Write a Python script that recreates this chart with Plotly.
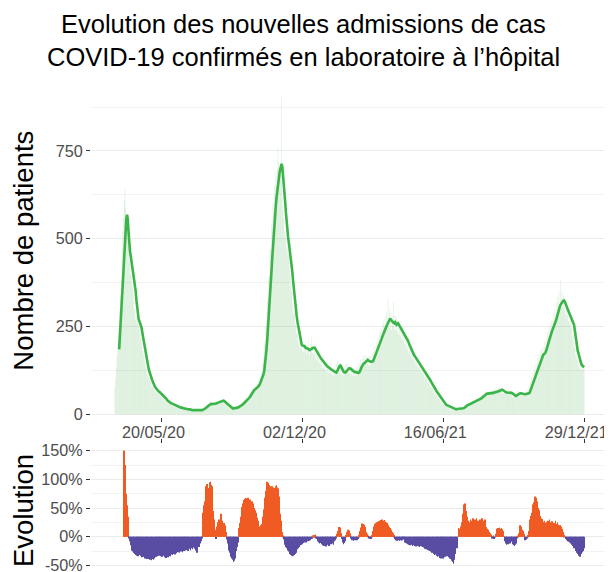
import pandas as pd
import plotly.graph_objects as go

# ---------------- data ----------------
date_debut = "2020-03-16"

# daily new hospital admissions (bars)
admissions = [
    80, 105, 135, 165, 195, 225, 260, 300, 340, 380,
    470, 520, 560, 610, 640, 590, 545, 500, 520, 470,
    440, 430, 400, 395, 370, 360, 345, 300, 290, 270,
    275, 265, 270, 250, 240, 230, 215, 205, 190, 180,
    170, 155, 148, 135, 128, 118, 110, 105, 98, 95,
    95, 80, 85, 75, 78, 68, 72, 62, 68, 60,
    65, 58, 60, 52, 57, 50, 52, 44, 47, 40,
    42, 36, 38, 32, 35, 30, 33, 27, 30, 25,
    28, 23, 26, 22, 25, 20, 23, 19, 22, 18,
    20, 16, 19, 15, 18, 14, 17, 13, 16, 14,
    16, 12, 15, 11, 14, 11, 13, 10, 13, 10,
    12, 10, 12, 9, 11, 9, 11, 9, 12, 11,
    14, 13, 16, 15, 19, 20, 24, 22, 28, 27,
    31, 27, 32, 27, 31, 28, 30, 28, 33, 30,
    35, 31, 37, 34, 39, 35, 40, 37, 42, 36,
    39, 33, 35, 29, 31, 25, 27, 21, 23, 18,
    19, 16, 18, 15, 19, 16, 20, 17, 21, 18,
    23, 20, 25, 23, 28, 26, 32, 30, 36, 35,
    42, 38, 45, 42, 49, 47, 56, 55, 64, 63,
    70, 66, 74, 70, 77, 73, 82, 78, 86, 85,
    95, 92, 108, 104, 120, 122, 148, 160, 195, 210,
    250, 265, 320, 330, 390, 400, 470, 470, 540, 530,
    600, 580, 650, 620, 690, 650, 700, 760, 720, 690,
    700, 680, 900, 620, 580, 560, 520, 500, 510, 470,
    480, 450, 455, 410, 400, 365, 350, 320, 310, 285,
    290, 255, 260, 230, 235, 205, 210, 190, 205, 185,
    215, 180, 205, 175, 200, 178, 210, 172, 195, 180,
    215, 170, 200, 180, 220, 175, 195, 170, 185, 160,
    190, 155, 175, 150, 172, 145, 165, 140, 158, 132,
    155, 130, 150, 125, 145, 122, 142, 118, 140, 120,
    138, 115, 135, 112, 132, 110, 135, 118, 145, 128,
    155, 130, 148, 120, 138, 112, 130, 110, 132, 115,
    140, 118, 145, 122, 143, 120, 140, 115, 135, 113,
    133, 110, 132, 108, 130, 110, 130, 112, 138, 120,
    148, 128, 155, 135, 158, 138, 165, 142, 168, 145,
    165, 140, 162, 140, 165, 138, 165, 148, 175, 155,
    188, 165, 195, 172, 205, 185, 220, 195, 232, 210,
    245, 220, 255, 228, 265, 240, 278, 245, 290, 255,
    330, 250, 300, 245, 290, 240, 280, 250, 320, 240,
    280, 240, 275, 235, 268, 228, 262, 225, 255, 215,
    248, 210, 240, 200, 232, 195, 225, 185, 210, 175,
    198, 165, 190, 160, 182, 155, 176, 148, 170, 142,
    162, 135, 155, 130, 148, 124, 140, 118, 134, 112,
    128, 105, 122, 100, 115, 95, 108, 86, 98, 80,
    90, 74, 82, 66, 75, 60, 68, 54, 62, 50,
    56, 44, 48, 37, 40, 30, 34, 27, 30, 24,
    28, 22, 25, 19, 22, 17, 20, 15, 18, 14,
    15, 13, 16, 13, 17, 14, 18, 15, 18, 14,
    19, 15, 19, 16, 21, 20, 26, 23, 29, 25,
    31, 26, 32, 28, 33, 29, 35, 31, 38, 33,
    40, 34, 42, 37, 45, 39, 48, 42, 52, 46,
    56, 50, 60, 53, 64, 55, 65, 54, 66, 55,
    66, 56, 66, 57, 67, 58, 68, 58, 70, 60,
    72, 62, 74, 64, 76, 66, 77, 64, 73, 60,
    70, 58, 68, 58, 69, 57, 70, 58, 68, 56,
    66, 54, 62, 50, 58, 48, 59, 52, 63, 54,
    65, 55, 66, 54, 64, 53, 63, 52, 63, 52,
    63, 53, 65, 56, 68, 62, 80, 74, 92, 86,
    108, 96, 120, 104, 130, 118, 146, 130, 160, 140,
    172, 150, 182, 158, 188, 160, 192, 170, 205, 180,
    218, 190, 232, 210, 250, 222, 262, 232, 270, 240,
    285, 255, 300, 270, 320, 285, 335, 295, 350, 305,
    380, 300, 350, 310, 340, 300, 330, 285, 320, 275,
    305, 265, 295, 255, 285, 245, 270, 215, 230, 190,
    205, 170, 185, 155, 165, 140, 155, 130, 148, 128,
    145, 128, 140, 130,
]

# 7-day average (green line)
moyenne_7j = [
    None, None, None, None, None, None, 185, 225, 265, 310,
    350, 395, 435, 470, 505, 535, 558, 568, 555, 520,
    480, 465, 452, 438, 422, 405, 390, 375, 362, 350,
    325, 305, 285, 272, 266, 260, 255, 248, 235, 222,
    210, 197, 185, 173, 161, 150, 140, 130, 122, 114,
    107, 102, 97, 92, 86, 82, 78, 75, 72, 69,
    67, 65, 64, 62, 60, 58, 57, 55, 52, 50,
    47, 45, 43, 40, 38, 36, 35, 33, 32, 31,
    30, 28, 27, 26, 25, 24, 24, 23, 22, 21,
    21, 20, 19, 19, 18, 18, 17, 17, 16, 16,
    15, 15, 15, 14, 14, 13, 13, 13, 12, 12,
    12, 12, 11, 11, 11, 11, 10, 10, 10, 10,
    10, 11, 12, 13, 14, 15, 16, 18, 20, 22,
    24, 26, 28, 29, 30, 29, 29, 30, 29, 29,
    30, 31, 32, 33, 34, 35, 36, 37, 37, 38,
    39, 39, 38, 37, 35, 33, 31, 29, 27, 25,
    23, 21, 19, 18, 17, 17, 17, 17, 18, 18,
    19, 19, 20, 21, 22, 23, 25, 26, 28, 30,
    32, 34, 37, 39, 41, 42, 44, 46, 49, 53,
    57, 61, 65, 67, 69, 71, 72, 74, 76, 78,
    80, 83, 87, 92, 97, 103, 108, 115, 125, 140,
    160, 185, 212, 240, 272, 305, 340, 373, 410, 445,
    480, 515, 545, 570, 595, 618, 640, 658, 672, 685,
    697, 707, 713, 705, 685, 660, 639, 605, 575, 545,
    520, 505, 490, 475, 462, 449, 428, 405, 380, 355,
    335, 315, 296, 280, 265, 252, 240, 228, 215, 203,
    198, 196, 195, 194, 194, 190, 188, 189, 188, 186,
    185, 183, 185, 185, 186, 189, 190, 191, 190, 186,
    182, 178, 174, 171, 168, 165, 162, 159, 156, 153,
    150, 147, 144, 142, 140, 138, 136, 134, 132, 131,
    129, 128, 127, 125, 124, 122, 121, 120, 119, 121,
    125, 130, 135, 138, 139, 136, 131, 126, 122, 120,
    119, 119, 122, 125, 128, 130, 131, 131, 131, 129,
    126, 124, 122, 121, 120, 120, 119, 119, 118, 118,
    119, 122, 127, 133, 138, 142, 144, 145, 147, 150,
    152, 154, 155, 153, 151, 150, 150, 150, 150, 151,
    155, 160, 166, 172, 177, 181, 184, 190, 196, 202,
    208, 214, 220, 226, 231, 236, 241, 246, 251, 255,
    259, 264, 269, 273, 270, 266, 264, 262, 260, 259,
    262, 258, 255, 257, 259, 256, 252, 248, 246, 243,
    240, 236, 232, 228, 224, 220, 216, 213, 210, 204,
    198, 193, 187, 182, 176, 173, 170, 167, 164, 161,
    158, 155, 152, 149, 145, 141, 138, 134, 131, 128,
    125, 122, 119, 116, 113, 110, 107, 104, 101, 97,
    93, 89, 86, 82, 78, 74, 71, 68, 65, 62,
    59, 56, 54, 51, 47, 43, 40, 36, 33, 31,
    29, 27, 26, 25, 24, 22, 21, 20, 19, 18,
    17, 16, 15, 14, 14, 14, 15, 15, 16, 16,
    16, 16, 16, 17, 17, 17, 18, 19, 21, 23,
    25, 26, 27, 28, 28, 29, 30, 30, 31, 32,
    33, 34, 35, 36, 37, 38, 40, 41, 42, 44,
    45, 47, 49, 51, 53, 55, 57, 58, 59, 59,
    59, 60, 59, 60, 60, 60, 61, 61, 62, 62,
    62, 63, 64, 65, 66, 67, 68, 69, 70, 70,
    69, 67, 65, 64, 63, 62, 62, 62, 62, 63,
    62, 62, 61, 60, 58, 56, 54, 53, 52, 53,
    55, 57, 58, 59, 60, 60, 59, 58, 58, 57,
    57, 57, 57, 57, 58, 59, 60, 61, 66, 72,
    78, 83, 90, 97, 103, 108, 112, 118, 125, 132,
    139, 145, 150, 155, 160, 165, 169, 171, 173, 175,
    180, 186, 192, 198, 204, 212, 220, 228, 235, 240,
    245, 250, 255, 260, 268, 276, 285, 292, 298, 305,
    311, 316, 319, 321, 323, 324, 321, 317, 312, 306,
    300, 295, 289, 283, 277, 272, 268, 264, 260, 255,
    240, 222, 205, 192, 182, 175, 166, 157, 149, 144,
    140, 137, 135, 134,
]

# weekly evolution of the average, in %
evolution = [
    None, None, None, None, None, None, None, None, None, None,
    None, None, 150, 150, 125, 100, 75, 55, 35, 15,
    -3, -8, -15, -20, -24, -26, -27, -28, -30, -32,
    -33, -32, -34, -31, -30, -32, -33, -35, -36, -34,
    -35, -37, -38, -36, -38, -39, -37, -39, -40, -38,
    -40, -41, -39, -37, -40, -38, -36, -35, -33, -34,
    -30, -33, -31, -29, -34, -32, -35, -30, -33, -36,
    -34, -37, -35, -32, -36, -33, -30, -34, -31, -29,
    -32, -28, -30, -27, -31, -26, -29, -24, -27, -25,
    -28, -24, -26, -22, -27, -23, -25, -21, -24, -20,
    -23, -19, -25, -21, -18, -24, -20, -17, -22, -19,
    -15, -21, -17, -24, -28, -20, -14, -18, -10, -12,
    -8, -3, 30, 42, 55, 62, 75, 88, 92, 78,
    70, 85, 95, 96, 90, 88, 60, 45, 30, 12,
    6, -4, 18, 25, 22, 30, 20, 24, 40, 28,
    22, 18, 24, 15, 20, 8, -5, -12, -18, -24,
    -28, -32, -35, -38, -40, -44, -42, -38, -30, -25,
    -18, -10, -4, 15, 24, 35, 42, 52, 58, 62,
    64, 66, 68, 65, 67, 68, 66, 63, 65, 62,
    60, 62, 58, 55, 50, 46, 42, 38, 33, 28,
    24, 18, 16, 20, 18, 22, 35, 48, 58, 68,
    80, 95, 96, 92, 94, 90, 88, 86, 85, 88,
    84, 86, 82, 85, 88, 90, 86, 84, 70, 55,
    40, 28, 17, 8, 2, -5, -10, -14, -18, -20,
    -22, -24, -26, -28, -30, -32, -33, -34, -33, -32,
    -31, -30, -28, -25, -22, -20, -18, -16, -15, -14,
    -13, -12, -11, -10, -9, -8, -10, -7, -6, -8,
    -7, -5, -6, -4, -3, -2, 1, 3, 2, 4,
    -2, -4, -6, -8, -10, -12, -11, -9, -13, -15,
    -14, -16, -12, -15, -17, -13, -11, -14, -16, -12,
    -10, -13, -9, -12, -14, -8, -5, -6, -2, 5,
    10, 15, 17, 16, 12, 6, -4, -10, -13, -11,
    -8, -5, 3, 8, 12, 10, 11, 6, 1, -3,
    -6, -5, -7, -4, -6, -5, -3, -6, -4, -2,
    3, 10, 16, 20, 23, 22, 18, 21, 17, 12,
    8, 5, 2, -1, -2, -3, -4, -1, 3, 10,
    14, 18, 22, 24, 23, 25, 26, 27, 28, 26,
    29, 28, 30, 28, 27, 29, 26, 25, 23, 24,
    20, 19, 17, 15, 12, 10, 8, 6, 3, -2,
    -4, -6, -5, -7, -6, -5, -7, -6, -4, -7,
    -6, -3, -5, -9, -10, -11, -12, -10, -13, -14,
    -12, -15, -13, -14, -16, -15, -13, -14, -16, -17,
    -15, -16, -14, -17, -18, -16, -15, -17, -18, -16,
    -19, -21, -18, -22, -20, -23, -21, -24, -25, -23,
    -26, -28, -25, -27, -30, -32, -29, -31, -33, -35,
    -32, -34, -37, -35, -38, -36, -34, -38, -36, -33,
    -35, -32, -34, -30, -33, -36, -38, -35, -39, -42,
    -44, -47, -40, -30, -22, -15, -20, -10, 15, 12,
    14, 18, 12, 25, 40, 52, 56, 58, 50, 45,
    35, 28, 22, 18, 25, 30, 20, 28, 32, 24,
    20, 30, 26, 32, 22, 28, 18, 25, 30, 22,
    26, 32, 28, 20, 24, 30, 22, 17, 14, 12,
    10, 8, 6, 4, 2, -3, -2, 1, -4, -1,
    5, 10, 14, 15, 13, 16, 14, 12, 15, 13,
    10, 6, -2, -8, -12, -14, -11, -13, -10, -8,
    -12, -5, -3, -9, -13, -15, -16, -14, -12, -8,
    -3, 2, 6, 14, 20, 18, 15, 12, 10, 5,
    -3, -6, -5, -4, -2, 3, 10, 20, 30, 36,
    42, 50, 56, 60, 65, 70, 68, 62, 58, 50,
    46, 40, 36, 32, 29, 31, 26, 22, 28, 24,
    20, 26, 22, 28, 24, 30, 25, 20, 27, 22,
    18, 24, 20, 28, 22, 19, 25, 21, 17, 20,
    15, 18, 12, 14, 8, 3, 0, -2, -4, -6,
    -8, -7, -9, -10, -12, -11, -14, -16, -18, -20,
    -19, -22, -25, -28, -30, -32, -33, -35, -31, -30,
    -27, -25, -23, -20,
]

x_tick_dates = ["2020-05-20", "2020-12-02", "2021-06-16", "2021-12-29"]
x_tick_labels = ["20/05/20", "02/12/20", "16/06/21", "29/12/21"]
y_ticks = [0, 250, 500, 750]
y_minor = [125, 375, 625, 875]
evo_ticks = [-50, 0, 50, 100, 150]
evo_tick_labels = ["-50%", "0%", "50%", "100%", "150%"]
evo_minor = [-25, 25, 75, 125]

titre_l1 = "Evolution des nouvelles admissions de cas"
titre_l2 = "COVID-19 confirmés en laboratoire à l’hôpital"
titre_y = "Nombre de patients"
titre_y2 = "Evolution"

# ---------------- figure ----------------
dates = pd.date_range(date_debut, periods=len(admissions), freq="D")

FONT = "Liberation Sans, Arial, Helvetica, sans-serif"
TICK_FONT = dict(family=FONT, size=16.2, color="#4D4D4D")
GRID = "#EBEBEB"
MINOR_GRID = "#F2F2F2"
POS = "#F05A23"
NEG = "#584CA3"

evo_colors = [
    ("rgba(0,0,0,0)" if v is None else (POS if v >= 0 else NEG)) for v in evolution
]

fig = go.Figure()
fig.add_trace(go.Bar(
    x=dates, y=admissions, xaxis="x", yaxis="y",
    marker=dict(color="rgba(76,175,80,0.20)", line=dict(width=0)),
    hoverinfo="skip", showlegend=False,
))
fig.add_trace(go.Scatter(
    x=dates, y=moyenne_7j, xaxis="x", yaxis="y", mode="lines",
    line=dict(color="#3BB44A", width=2.6), connectgaps=False,
    showlegend=False,
))
fig.add_trace(go.Bar(
    x=dates, y=evolution, xaxis="x2", yaxis="y2",
    marker=dict(color=evo_colors, line=dict(width=0)),
    showlegend=False,
))

x_range = ["2020-02-11 19:00", "2022-01-31 05:00"]

# the page body adds an 8 px offset: figure is 604x564 so it fills the 612x572 window
fig.update_layout(
    template="none",
    width=604, height=564,
    margin=dict(l=83, r=4, t=82, b=1, autoexpand=False),
    paper_bgcolor="white", plot_bgcolor="white",
    font=dict(family=FONT, color="black"),
    bargap=0.12,
    showlegend=False,
    xaxis=dict(
        domain=[0, 1], anchor="y", range=x_range, type="date",
        showgrid=False, zeroline=False, showline=False,
        tickmode="array", tickvals=x_tick_dates, ticktext=x_tick_labels,
        ticks="outside", ticklen=4, tickwidth=1, tickcolor="#333333",
        tickfont=TICK_FONT, automargin=False,
        ticklabelshift=-8, ticklabelstandoff=-3, ticklabeloverflow="allow",
    ),
    xaxis2=dict(
        domain=[0, 1], anchor="y2", matches="x", type="date", side="top",
        showgrid=False, zeroline=False, showline=False,
        tickmode="array", tickvals=x_tick_dates, ticktext=x_tick_labels,
        showticklabels=False,
        ticks="outside", ticklen=4, tickwidth=1, tickcolor="#333333",
        automargin=False,
    ),
    yaxis=dict(
        domain=[0.3208, 1], anchor="x", range=[-6.8, 923.4],
        tickmode="array", tickvals=y_ticks,
        showgrid=True, gridcolor=GRID, gridwidth=1.1,
        zeroline=False, showline=False,
        ticks="outside", ticklen=4, tickwidth=1, tickcolor="#333333",
        tickfont=TICK_FONT, automargin=False, ticklabeloverflow="allow",
        minor=dict(tickmode="array", tickvals=y_minor, showgrid=True,
                   gridcolor=MINOR_GRID, gridwidth=0.8, ticks=""),
    ),
    yaxis2=dict(
        domain=[0, 0.263], anchor="x2", range=[-59.8, 160.8],
        tickmode="array", tickvals=evo_ticks, ticktext=evo_tick_labels,
        showgrid=True, gridcolor=GRID, gridwidth=1.1,
        zeroline=False, showline=False,
        ticks="outside", ticklen=4, tickwidth=1, tickcolor="#333333",
        tickfont=TICK_FONT, automargin=False, ticklabeloverflow="allow",
        minor=dict(tickmode="array", tickvals=evo_minor, showgrid=True,
                   gridcolor=MINOR_GRID, gridwidth=0.8, ticks=""),
    ),
    annotations=[
        dict(text=titre_l1, xref="paper", yref="paper", x=0.411, y=1.1366,
             xanchor="center", yanchor="middle", showarrow=False,
             font=dict(family=FONT, size=25.5, color="black")),
        dict(text=titre_l2, xref="paper", yref="paper", x=0.411, y=1.0692,
             xanchor="center", yanchor="middle", showarrow=False,
             font=dict(family=FONT, size=25.5, color="black")),
        dict(text=titre_y, xref="paper", yref="paper", x=-0.1306, y=0.667,
             xanchor="center", yanchor="middle", textangle=-90, showarrow=False,
             font=dict(family=FONT, size=27.5, color="black")),
        dict(text=titre_y2, xref="paper", yref="paper", x=-0.1306, y=0.1258,
             xanchor="center", yanchor="middle", textangle=-90, showarrow=False,
             font=dict(family=FONT, size=27.5, color="black")),
    ],
)

fig.write_html("out.html")
